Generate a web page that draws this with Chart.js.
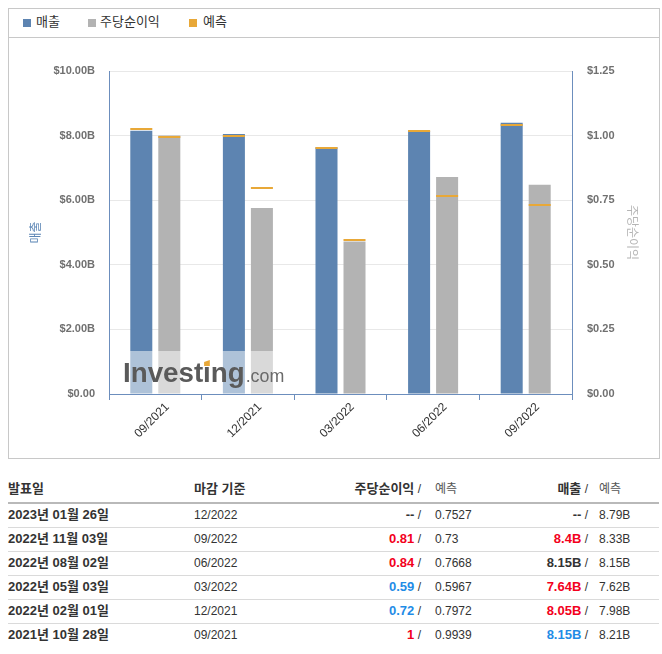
<!DOCTYPE html>
<html><head><meta charset="utf-8">
<script src="https://cdn.jsdelivr.net/npm/chart.js@4.4.0/dist/chart.umd.min.js"></script>
<style>
html,body{margin:0;padding:0;background:#fff;}
body{width:662px;height:654px;position:relative;overflow:hidden;font-family:"Liberation Sans","Noto Sans CJK KR",Arial,sans-serif;color:#333;}
#box{position:absolute;left:8px;top:8px;width:650px;height:449px;border:1px solid #c8c8c8;}
#legend{position:absolute;left:0;top:0;width:650px;height:28px;border-bottom:1px solid #c8c8c8;}
.sq{position:absolute;top:10px;width:8px;height:8px;}
.lt{position:absolute;top:5px;font-size:13px;line-height:16px;color:#333;}
#cwrap{position:absolute;left:0;top:29px;width:650px;height:420px;}
.row{position:absolute;left:8px;width:651px;height:24px;}
.c{position:absolute;top:0;height:24px;line-height:24px;white-space:nowrap;font-size:12px;color:#333;}
.hd{font-weight:bold;font-size:13px;}
.line{position:absolute;left:8px;width:651px;}
</style></head>
<body>
<div id="box">
  <div id="legend"></div>
  <div id="cwrap"><canvas id="c" width="650" height="420"></canvas></div>
</div>
<div id="table"></div>
<script>
// ---- chart data ----
const periods = ['09/2021','12/2021','03/2022','06/2022','09/2022'];
const revenue = [8.15, 8.05, 7.64, 8.15, 8.4];
const revenueForecast = [8.21, 7.98, 7.62, 8.15, 8.33];
const eps = [1, 0.72, 0.59, 0.84, 0.81];
const epsForecast = [0.9939, 0.7972, 0.5967, 0.7668, 0.73];
const revTickLabels = ['$0.00','$2.00B','$4.00B','$6.00B','$8.00B','$10.00B'];
const epsTickLabels = ['$0.00','$0.25','$0.50','$0.75','$1.00','$1.25'];
const legendLabels = ['매출','주당순이익','예측'];

// ---- table data ----
const releaseDates = ['2023년 01월 26일','2022년 11월 03일','2022년 08월 02일','2022년 05월 03일','2022년 02월 01일','2021년 10월 28일'];
const tablePeriods = ['12/2022','09/2022','06/2022','03/2022','12/2021','09/2021'];
const tableEps = ['--','0.81','0.84','0.59','0.72','1'];
const tableEpsFc = ['0.7527','0.73','0.7668','0.5967','0.7972','0.9939'];
const tableRev = ['--','8.4B','8.15B','7.64B','8.05B','8.15B'];
const tableRevFc = ['8.79B','8.33B','8.15B','7.62B','7.98B','8.21B'];
const tableHeaders = ['발표일','마감 기준','주당순이익','예측','매출','예측'];

const BLUE = '#5d84b1', GRAY = '#b3b3b3', ORANGE = '#e8a838', AXIS = '#6c8ebd';
const FONT = '"Liberation Sans","Noto Sans CJK KR",Arial,sans-serif';

// legend
const lg = document.getElementById('legend');
const lgPos = [[14,27],[79,91],[180,194]];
[BLUE, GRAY, ORANGE].forEach((col, i) => {
  lg.insertAdjacentHTML('beforeend',
    `<div class="sq" style="left:${lgPos[i][0]}px;background:${col}"></div><div class="lt" style="left:${lgPos[i][1]}px">${legendLabels[i]}</div>`);
});

// table
function num(s){ return parseFloat(s); }
function colorFor(a, f){
  if (a === '--') return '#333';
  const x = num(a), y = num(f);
  if (x > y) return '#f3001c';
  if (x < y) return '#1f8ce6';
  return '#333';
}
const tb = document.getElementById('table');
let h = '';
h += `<div class="row" style="top:477px">
  <div class="c hd" style="left:0">${tableHeaders[0]}</div>
  <div class="c hd" style="left:186px">${tableHeaders[1]}</div>
  <div class="c" style="right:238px;text-align:right"><span class="hd">${tableHeaders[2]}</span> /</div>
  <div class="c" style="left:427px;color:#555">${tableHeaders[3]}</div>
  <div class="c" style="right:71px;text-align:right"><span class="hd">${tableHeaders[4]}</span> /</div>
  <div class="c" style="left:591px;color:#555">${tableHeaders[5]}</div>
</div>`;
h += `<div class="line" style="top:502px;height:2px;background:#b9b9b9"></div>`;
releaseDates.forEach((d, i) => {
  const top = 503 + i * 24;
  h += `<div class="row" style="top:${top}px">
    <div class="c hd" style="left:0">${d}</div>
    <div class="c" style="left:186px">${tablePeriods[i]}</div>
    <div class="c" style="right:238px;text-align:right"><b style="color:${colorFor(tableEps[i], tableEpsFc[i])};font-size:13px">${tableEps[i]}</b> /</div>
    <div class="c" style="left:427px">${tableEpsFc[i]}</div>
    <div class="c" style="right:71px;text-align:right"><b style="color:${colorFor(tableRev[i], tableRevFc[i])};font-size:13px">${tableRev[i]}</b> /</div>
    <div class="c" style="left:591px">${tableRevFc[i]}</div>
  </div>`;
  if (i < releaseDates.length - 1) h += `<div class="line" style="top:${top + 24}px;height:1px;background:#dadada"></div>`;
});
tb.innerHTML = h;

// plugins
const forecastPlugin = {
  id: 'forecastMarks',
  afterDatasetsDraw(chart) {
    const ctx = chart.ctx;
    // watermark
    const ca = chart.chartArea;
    ctx.save();
    ctx.fillStyle = 'rgba(255,255,255,0.5)';
    ctx.fillRect(ca.left + 1, ca.bottom - 43, 180, 43);
    ctx.textBaseline = 'alphabetic';
    ctx.font = 'bold 28px ' + FONT;
    ctx.fillStyle = '#5a5a5a';
    const lx = ca.left + 14, ly = ca.bottom - 12;
    ctx.save();
    ctx.translate(lx, ly);
    ctx.scale(0.99, 1);
    ctx.fillText('Investing', 0, 0);
    const wInv = ctx.measureText('Investing').width;
    const wPre = ctx.measureText('Invest').width;
    const wi = ctx.measureText('i').width;
    ctx.fillStyle = ORANGE;
    ctx.beginPath();
    ctx.moveTo(wPre + 1, -16);
    ctx.lineTo(wPre + wi - 1, -16);
    ctx.lineTo(wPre + wi - 1, -22);
    ctx.lineTo(wPre + 1, -20);
    ctx.closePath();
    ctx.fill();
    ctx.font = '18px ' + FONT;
    ctx.fillStyle = '#6a6a6a';
    ctx.fillText('.com', wInv + 1, 0);
    ctx.restore();
    // forecast lines
    [[0, revenueForecast, 'y'], [1, epsForecast, 'y1']].forEach(([di, fc, ax]) => {
      const meta = chart.getDatasetMeta(di);
      const sc = chart.scales[ax];
      meta.data.forEach((bar, i) => {
        const y = Math.round(sc.getPixelForValue(fc[i]));
        ctx.fillStyle = ORANGE;
        ctx.fillRect(bar.x - bar.width / 2, y - 1, bar.width, 2);
      });
    });
    ctx.restore();
  }
};

Chart.defaults.font.family = FONT;
new Chart(document.getElementById('c'), {
  type: 'bar',
  data: {
    labels: periods,
    datasets: [
      { label: legendLabels[0], data: revenue, backgroundColor: BLUE, yAxisID: 'y', categoryPercentage: 0.605, barPercentage: 0.786 },
      { label: legendLabels[1], data: eps, backgroundColor: GRAY, yAxisID: 'y1', categoryPercentage: 0.605, barPercentage: 0.786 }
    ]
  },
  options: {
    responsive: false,
    animation: false,
    devicePixelRatio: 1,
    layout: { padding: { top: 33, left: 0, right: 0, bottom: 0 } },
    plugins: { legend: { display: false }, tooltip: { enabled: false } },
    scales: {
      x: {
        offset: true,
        grid: { display: true, drawOnChartArea: false, drawTicks: true, tickLength: 6, color: AXIS, offset: true },
        border: { color: AXIS, width: 1 },
        ticks: { color: '#333', font: { size: 12 }, minRotation: 45, maxRotation: 45, padding: 0, labelOffset: 12, autoSkip: false },
        afterFit(s) { s.height = 64; }
      },
      y: {
        position: 'left', min: 0, max: 10,
        ticks: { stepSize: 2, color: '#707070', font: { size: 11, weight: 'bold' }, padding: 14,
          callback: (v, i) => revTickLabels[i] },
        grid: { color: '#e8e8e8', drawTicks: false },
        border: { color: AXIS, width: 1 },
        title: { display: true, text: legendLabels[0], color: '#5b85b5', font: { size: 12 }, padding: { top: 20.8, bottom: 0 } },
        afterFit(s) { s.width = 100; }
      },
      y1: {
        position: 'right', min: 0, max: 1.25,
        ticks: { stepSize: 0.25, color: '#707070', font: { size: 11, weight: 'bold' }, padding: 15,
          callback: (v, i) => epsTickLabels[i] },
        grid: { drawOnChartArea: false, drawTicks: false },
        border: { color: AXIS, width: 1 },
        title: { display: true, text: legendLabels[1], color: '#b5b5b5', font: { size: 12 }, padding: { top: 20.8, bottom: 0 } },
        afterFit(s) { s.width = 87; }
      }
    }
  },
  plugins: [forecastPlugin]
});
</script>
</body></html>
